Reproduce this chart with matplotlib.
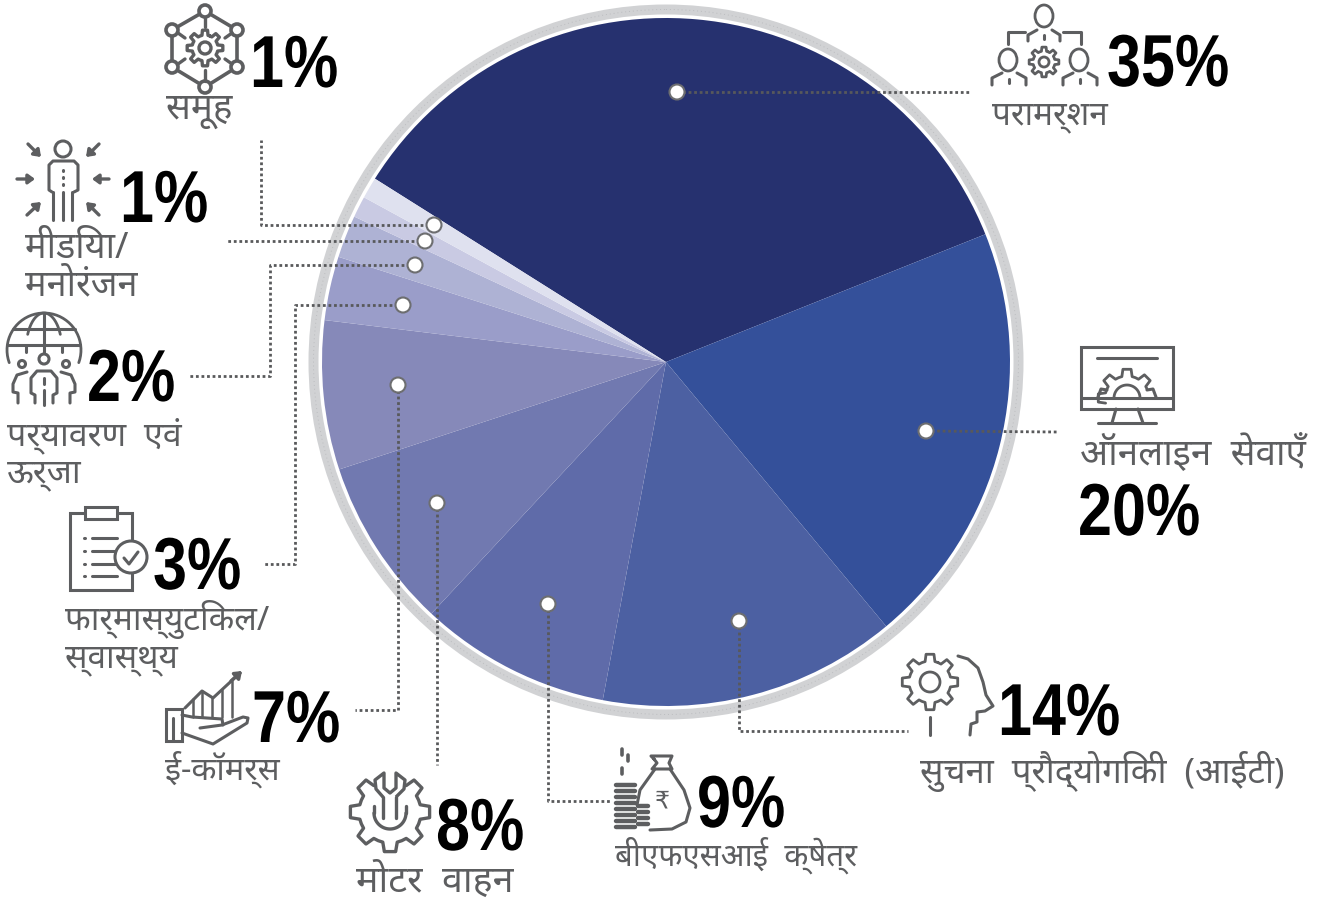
import numpy as np
import matplotlib
matplotlib.use("Agg")
import matplotlib.pyplot as plt
from matplotlib.patches import Circle, Ellipse, Polygon, Rectangle
from matplotlib.patheffects import AbstractPathEffect
from matplotlib.transforms import Affine2D

# slices, clockwise from the dark one
sectors = ["परामर्शन", "ऑनलाइन सेवाएँ", "सुचना प्रौद्योगिकी (आईटी)", "बीएफएसआई क्षेत्र",
           "मोटर वाहन", "ई-कॉमर्स", "फार्मास्युटिकल/\nस्वास्थ्य", "पर्यावरण एवं\nऊर्जा",
           "मीडिया/\nमनोरंजन", "समूह"]
shares = [35, 20, 14, 9, 8, 7, 3, 2, 1, 1]
colors = ["#26316f", "#34509a", "#4c60a2", "#5f6ba9", "#7179b0",
          "#8689b9", "#9a9dc9", "#aeb2d4", "#c9cae3", "#dfe1ef"]

# layout in picture pixels
W, H = 1320, 899
CX, CY, R = 666, 362, 344
pct_pos = [(1107, 86), (1078, 535), (998, 735), (697, 827), (436, 850),
           (252, 742), (153, 589), (87, 401), (120, 222), (250, 87)]
label_pos = [(992, 124), (1080, 465), (920, 783), (615, 866), (356, 892),
             (165, 780), (65, 630), (7, 445), (25, 258), (166, 119)]
label_size = [24, 26.5, 25, 22.5, 27, 23.5, 24, 24.5, 26, 26.5]
leaders = [
    [(677, 92), (970, 92)],
    [(926, 431), (1058, 432)],
    [(739, 621), (739, 731), (908, 731)],
    [(548, 604), (548, 801), (612, 801)],
    [(437, 503), (437, 765)],
    [(398, 385), (398, 710), (355, 710)],
    [(403, 305), (295, 305), (295, 564), (262, 564)],
    [(415, 265), (270, 265), (270, 376), (188, 376)],
    [(425, 241), (225, 241)],
    [(434, 225), (261, 225), (261, 140)],
]

GREY = "#5d5e60"


class Squeeze(AbstractPathEffect):
    # no condensed bold installed, so narrow the glyphs of the percent labels
    def __init__(self, sx):
        super().__init__()
        self.sx = sx

    def draw_path(self, renderer, gc, tpath, affine, rgbFace=None):
        renderer.draw_path(gc, tpath, Affine2D().scale(self.sx, 1) + affine, rgbFace)


fig = plt.figure(figsize=(W / 100, H / 100), dpi=100)

# pie axes, a bit bigger than the pie so the ring fits
pad = 1.06
pie_ax = fig.add_axes([(CX - R * pad) / W, 1 - (CY + R * pad) / H, 2 * R * pad / W, 2 * R * pad / H])
pie_ax.pie(shares, colors=colors, startangle=147.8, counterclock=False, radius=1,
           wedgeprops={"linewidth": 0})
pie_ax.set_xlim(-pad, pad)
pie_ax.set_ylim(-pad, pad)
pie_ax.axis("off")

ax = fig.add_axes([0, 0, 1, 1])
ax.set_xlim(0, W)
ax.set_ylim(H, 0)
ax.axis("off")
ax.patch.set_alpha(0)

# grey ring round the pie
ax.add_patch(Circle((CX, CY), 352.5, fill=False, ec="#d1d2d4", lw=7.2))
ax.add_patch(Circle((CX, CY), 352.5, fill=False, ec="#bcbdc0", lw=0.7, ls=(0, (1, 3))))


def line(pts, lw=2.2, **kw):
    xs, ys = zip(*pts)
    ax.plot(xs, ys, color=GREY, lw=lw, solid_capstyle="round", solid_joinstyle="round", **kw)


def circ(x, y, r, lw=2.2, fc="none"):
    ax.add_patch(Circle((x, y), r, fc=fc, ec=GREY, lw=lw, zorder=2))


def oval(x, y, rx, ry, lw=2.0):
    ax.add_patch(Ellipse((x, y), 2 * rx, 2 * ry, fc="none", ec=GREY, lw=lw, zorder=2))


def arc(x, y, rx, ry, a0, a1, lw=2.0):
    # angles in degrees, counted upwards on the page
    t = np.radians(np.linspace(a0, a1, 40))
    ax.plot(x + rx * np.cos(t), y - ry * np.sin(t), color=GREY, lw=lw, solid_capstyle="round")


def gear(x, y, ro, ri, teeth, hole=0, lw=2.0, a0=0, a1=360, closed=True):
    # outline of a cog, flat topped teeth
    step = 360 / teeth
    pts = []
    a = a0
    while a < a1 - 1e-6:
        for da, r in [(0, ri), (step * 0.2, ri), (step * 0.32, ro), (step * 0.68, ro), (step * 0.8, ri)]:
            t = np.radians(a + da + 90 - step / 2)
            pts.append((x + r * np.cos(t), y - r * np.sin(t)))
        a += step
    if closed:
        pts.append(pts[0])
    line(pts, lw=lw)
    if hole:
        circ(x, y, hole, lw=lw)


def arrow(p0, p1):
    ax.annotate("", xy=p1, xytext=p0,
                arrowprops={"arrowstyle": "-|>,head_width=0.28,head_length=0.38",
                            "color": GREY, "lw": 2.4, "shrinkA": 0, "shrinkB": 0})


def icon_consulting():
    oval(1044, 16, 9, 11)
    line([(1028, 41), (1028, 35), (1037, 30)])
    line([(1052, 30), (1060, 35), (1060, 41)])
    line([(1044, 35), (1044, 39)])
    line([(1008, 44), (1008, 32), (1025, 32)])
    line([(1063, 32), (1081, 32), (1081, 44)])
    oval(1008, 60, 9, 11)
    oval(1079, 60, 9, 11)
    line([(992, 85), (992, 78), (1002, 73)])
    line([(1017, 73), (1026, 78), (1026, 85)])
    line([(1009, 79), (1009, 83)])
    line([(1063, 85), (1063, 78), (1073, 73)])
    line([(1088, 73), (1097, 78), (1097, 85)])
    line([(1080, 79), (1080, 83)])
    gear(1044, 62, 15, 11, 8, hole=5)


def icon_monitor():
    ax.add_patch(Rectangle((1081, 347), 92, 62, fc="none", ec=GREY, lw=2.2, zorder=2))
    line([(1081, 398), (1173, 398)])
    line([(1097, 358), (1157, 358)])
    gear(1127, 398, 29, 22, 8, lw=2.0, a0=-45, a1=135, closed=False)
    line([(1147, 390), (1153, 389), (1156, 397)])
    line([(1107, 390), (1101, 389), (1098, 397)])
    arc(1127, 398, 13, 13, 0, 180)
    line([(1116, 409), (1112, 423)])
    line([(1138, 409), (1143, 423)])
    line([(1098, 423), (1156, 423)])


def icon_head():
    gear(930, 682, 28, 21, 8, hole=10)
    pts = [(958, 656), (968, 659), (978, 668), (983, 682), (986, 695), (993, 706),
           (985, 711), (977, 712), (977, 722), (971, 724), (970, 735)]
    line(pts)
    line([(930, 717), (930, 735)])


def icon_money():
    for y in range(785, 830, 6):
        line([(616, y), (635, y)], lw=3.2)
    for y in range(806, 830, 6):
        line([(638, y), (648, y)], lw=3.2)
    line([(622, 749), (622, 755)], lw=2.6)
    line([(628, 755), (628, 761)], lw=2.6)
    line([(622, 768), (622, 774)], lw=2.6)
    line([(655, 769), (640, 790), (637, 805)])
    line([(670, 769), (684, 790), (690, 808), (686, 822), (672, 829), (650, 830)])
    line([(654, 759), (651, 756), (672, 756), (669, 763), (672, 769), (652, 769), (657, 763), (654, 759)])
    ax.text(662, 801, "₹", family="DejaVu Sans", fontsize=17, color=GREY, ha="center", va="center")


def icon_wrench():
    gear(390, 812, 40, 31, 8, lw=2.4)
    # the wrench head hides the top tooth
    ax.add_patch(Rectangle((381, 766), 18, 22, fc="white", ec="none", zorder=2))
    head = [(383, 797), (376, 789), (375, 780), (384, 773), (384, 788), (390, 793),
            (396, 788), (396, 773), (405, 780), (404, 789), (396, 797)]
    ax.add_patch(Polygon(head, closed=False, fc="white", ec=GREY, lw=2.4, zorder=2, joinstyle="round"))
    line([(383, 797), (383, 818)], lw=2.4)
    line([(396, 797), (396, 818)], lw=2.4)
    arc(390, 813, 16, 16, 180, 360, lw=2.4)
    line([(374, 813), (374, 806)], lw=2.4)
    line([(406, 813), (406, 806)], lw=2.4)


def icon_hand():
    ax.add_patch(Rectangle((166, 709), 16, 32, fc="none", ec=GREY, lw=2.2, zorder=2))
    line([(173, 718), (173, 741)])
    line([(182, 733), (213, 744), (247, 723), (248, 718), (243, 717), (222, 725), (200, 728)])
    line([(182, 715), (192, 717), (222, 719), (223, 725)])
    line([(185, 708), (202, 691), (213, 698), (240, 673)])
    arrow((231, 681), (242, 671))
    for x, top in [(193, 699), (202, 691), (212, 698), (222, 690), (232, 681)]:
        line([(x, top), (x, 717)], lw=1.8)


def icon_clipboard():
    ax.add_patch(Rectangle((70, 513), 62, 77, fc="none", ec=GREY, lw=2.2, zorder=2))
    ax.add_patch(Rectangle((85, 507), 32, 12, fc="white", ec=GREY, lw=2.2, zorder=2))
    for y in [538, 551, 564, 576]:
        line([(84, y), (85, y)])
        line([(92, y), (117, y)])
    circ(131, 557, 16, fc="white")
    line([(124, 558), (129, 564), (138, 552)])


def icon_globe():
    arc(44, 350, 37, 37, -20, 200)
    line([(13, 329), (75, 329)])
    line([(8, 345), (80, 345)])
    line([(44, 313), (44, 352)])
    arc(44, 350, 18, 37, 25, 155)
    line([(26, 345), (26, 352)])
    line([(62, 345), (62, 352)])
    circ(44, 359, 5)
    circ(22, 364, 3.5)
    circ(66, 364, 3.5)
    line([(35, 403), (35, 395), (31, 393), (31, 378), (37, 371), (51, 371), (57, 378), (57, 393), (53, 395), (53, 403)])
    line([(44, 378), (44, 384)])
    line([(44, 390), (44, 405)])
    line([(27, 372), (17, 375), (13, 384), (13, 392), (18, 393), (18, 403)])
    line([(61, 372), (71, 375), (75, 384), (75, 392), (70, 393), (70, 403)])


def icon_media():
    circ(63, 149, 8)
    line([(52, 192), (49, 190), (49, 165), (53, 161), (74, 161), (78, 165), (78, 190), (74, 192)])
    for x in [53, 63, 72]:
        line([(x, 192), (x, 220)])
    for y in [170, 177, 184]:
        line([(63, y), (63, y + 1)])
    arrow((28, 144), (41, 157))
    arrow((99, 144), (86, 157))
    arrow((17, 179), (35, 179))
    arrow((109, 179), (92, 179))
    arrow((27, 215), (41, 202))
    arrow((99, 215), (86, 202))


def icon_network():
    nodes = [(205, 11), (237, 30), (237, 67), (205, 87), (172, 67), (172, 30)]
    for i, n in enumerate(nodes):
        line([n, nodes[(i + 1) % 6]], lw=2.6)
    for n in nodes:
        circ(n[0], n[1], 6, lw=2.6, fc="white")
    line([(205, 17), (205, 27)], lw=2.4)
    line([(205, 70), (205, 81)], lw=2.4)
    gear(205, 48, 18, 13, 8, hole=6, lw=2.4)
    line([(178, 33), (185, 38)], lw=2.4)
    line([(232, 33), (225, 38)], lw=2.4)
    line([(178, 64), (185, 59)], lw=2.4)
    line([(232, 64), (225, 59)], lw=2.4)


for draw in [icon_consulting, icon_monitor, icon_head, icon_money, icon_wrench,
             icon_hand, icon_clipboard, icon_globe, icon_media, icon_network]:
    draw()

# dotted leaders, then the white dots on top
for pts in leaders:
    xs, ys = zip(*pts)
    ax.plot(xs, ys, color="#58595b", lw=2, ls=(0, (1, 1)), zorder=4)
    ax.add_patch(Circle(pts[0], 7.5, fc="white", ec="#6d6e70", lw=1.5, zorder=5))

for share, (x, y) in zip(shares, pct_pos):
    ax.text(x, y, f"{share}%", family="Liberation Sans", weight="bold", fontsize=53,
            color="black", ha="left", va="baseline", path_effects=[Squeeze(0.83)])

for name, (x, y), size in zip(sectors, label_pos, label_size):
    for i, part in enumerate(name.split("\n")):
        ax.text(x, y + i * 37, part.replace(" ", "  "), family="Noto Sans", fontsize=size,
                color=GREY, ha="left", va="baseline")

fig.savefig("out.png", dpi=100)
